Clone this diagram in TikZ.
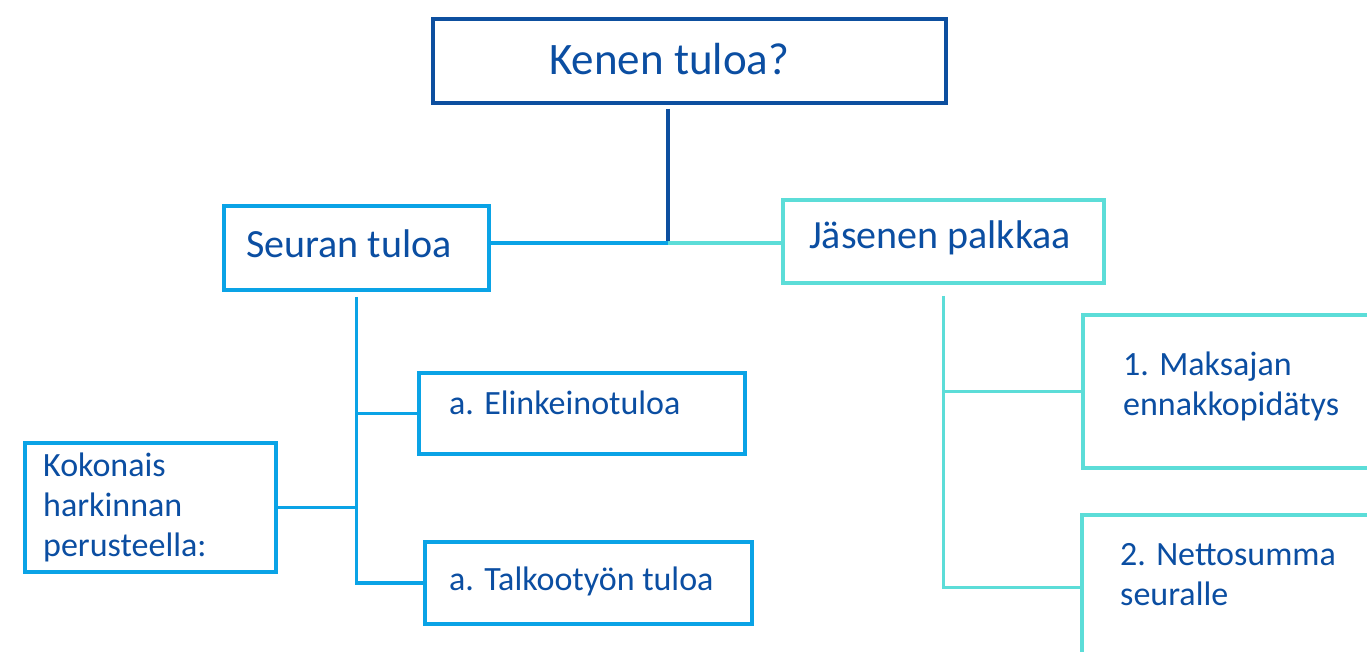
\documentclass[tikz,border=0pt]{standalone}
\usepackage{fontspec}
\setmainfont{Carlito}
\usetikzlibrary{fit}
\definecolor{dblue}{HTML}{0D4F9F}
\definecolor{lblue}{HTML}{0AA3E6}
\definecolor{tealc}{HTML}{5CDDD8}
\definecolor{txtc}{HTML}{0B4EA2}
\begin{document}
\begin{tikzpicture}[x=1pt,y=-1pt,
  box/.style={draw=#1, line width=3.5pt, fill=white, inner sep=0pt},
  conn/.style={draw=#1, line width=3.2pt},
  big/.style={text=txtc, inner sep=0pt, anchor=base west, font=\fontsize{40}{48}\selectfont},
  small/.style={text=txtc, inner sep=0pt, anchor=base west, align=left, font=\fontsize{34}{40}\selectfont}]
\useasboundingbox (0,0) rectangle (1367,651);
\clip (0,0) rectangle (1367,651);
% boxes
\node[box=dblue, fit={(433,19) (946,103)}] (top) {};
\node[box=lblue, fit={(224,206) (489,290)}] (seuran) {};
\node[box=tealc, fit={(783,200) (1104,283)}] (jas) {};
\node[box=lblue, fit={(419,373) (745,454)}] (elink) {};
\node[box=lblue, fit={(425,542) (752,624)}] (talk) {};
\node[box=lblue, fit={(25,443) (276,572)}] (kok) {};
\node[box=tealc, fit={(1083,315) (1380,468)}] (maks) {};
\node[box=tealc, fit={(1082,515) (1380,660)}] (netto) {};
% texts
\node[big, font=\fontsize{45}{54}\selectfont] (ttop) at (549,74) {Kenen tuloa?};
\node[big] (tseuran) at (246,257) {Seuran tuloa};
\node[big] (tjas) at (809,248) {Jäsenen palkkaa};
\node[small] (telink) at (449,414) {a. Elinkeinotuloa};
\node[small] (ttalk) at (449,590) {a. Talkootyön tuloa};
\node[small] (tkok) at (43,556) {Kokonais\\harkinnan\\perusteella:};
\node[small] (tmaks) at (1123,415) {1. Maksajan\\ennakkopidätys};
\node[small] (tnetto) at (1120,605) {2. Nettosumma\\seuralle};
% connectors
\coordinate (j) at (668,243);
\draw[conn=dblue] (j |- top.south) ++(0,4) -- (j);
\draw[conn=lblue] (seuran.east |- j) -- (j);
\draw[conn=tealc] (j) -- (jas.west |- j);
\draw[conn=lblue] ([yshift=-5pt]seuran.south) -- (seuran.south |- talk.west) -- (talk.west);
\draw[conn=lblue] (elink.west) -- (elink.west -| seuran.south);
\draw[conn=lblue] (kok.east) -- (kok.east -| seuran.south);
\draw[conn=tealc] ([yshift=-11pt]jas.south) -- (jas.south |- netto.west) -- (netto.west);
\draw[conn=tealc] (maks.west) -- (maks.west -| jas.south);
\end{tikzpicture}
\end{document}
